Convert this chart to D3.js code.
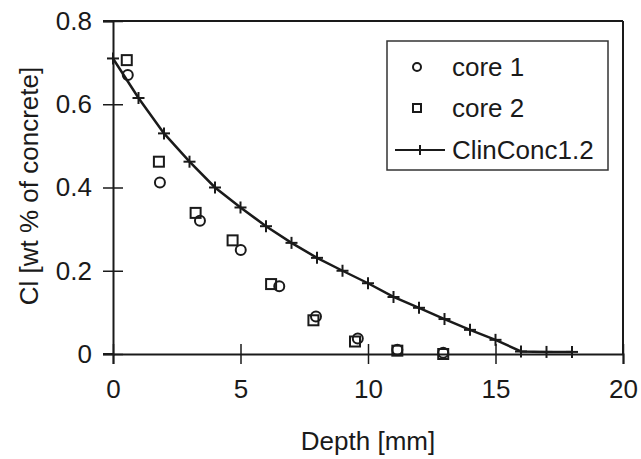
<!DOCTYPE html>
<html><head><meta charset="utf-8">
<script src="https://cdn.jsdelivr.net/npm/d3@7"></script>
<style>
html,body{margin:0;padding:0;background:#fff;}
svg{display:block;}
text{font-family:"Liberation Sans",Arial,Helvetica,sans-serif;fill:#1a1a1a;}
</style></head>
<body>
<script>
const xTicks = [0, 5, 10, 15, 20];
const yTicks = [0, 0.2, 0.4, 0.6, 0.8];
const yTickLabels = ["0", "0.2", "0.4", "0.6", "0.8"];

const core1Depth = [0.58, 1.84, 3.41, 5.01, 6.52, 7.96, 9.6, 11.15, 12.95];
const core1Cl    = [0.67, 0.412, 0.32, 0.25, 0.163, 0.09, 0.037, 0.01, 0.003];

const core2Depth = [0.54, 1.8, 3.24, 4.69, 6.2, 7.86, 9.49, 11.15, 12.95];
const core2Cl    = [0.706, 0.462, 0.339, 0.273, 0.168, 0.081, 0.03, 0.008, 0.0];

const modelDepth = [0, 1, 2, 3, 4, 5, 6, 7, 8, 9, 10, 11, 12, 13, 14, 15, 16, 17, 18];
const modelCl    = [0.71, 0.615, 0.53, 0.462, 0.40, 0.352, 0.307, 0.267, 0.231, 0.200, 0.170, 0.137, 0.111, 0.084, 0.058, 0.034, 0.006, 0.005, 0.005];

const seriesNames = ["core 1", "core 2", "ClinConc1.2"];

const W = 641, H = 459;
const ink = "#1a1a1a";
const svg = d3.select("body").append("svg").attr("width", W).attr("height", H);

const x = d3.scaleLinear().domain([0, 20]).range([113, 623]);
const y = d3.scaleLinear().domain([0, 0.8]).range([354, 21]);

// frame top & right
svg.append("line").attr("x1", x(0)).attr("x2", x(20)).attr("y1", y(0.8)).attr("y2", y(0.8))
  .attr("stroke", ink).attr("stroke-width", 2);
svg.append("line").attr("x1", x(20)).attr("x2", x(20)).attr("y1", y(0.8)).attr("y2", y(0))
  .attr("stroke", ink).attr("stroke-width", 2);

// y axis
const gy = svg.append("g").attr("transform", `translate(${x(0)},0)`)
  .call(d3.axisLeft(y).tickValues(yTicks).tickFormat((d, i) => yTickLabels[i]).tickSize(10).tickPadding(11));
gy.select(".domain").attr("stroke", ink).attr("stroke-width", 2);
gy.selectAll(".tick line").attr("x1", 10).attr("x2", -10).attr("stroke", ink).attr("stroke-width", 1.5);
gy.selectAll(".tick text").attr("font-size", 26).attr("font-family", "Liberation Sans, Arial, sans-serif").attr("fill", ink);

// x axis
const gx = svg.append("g").attr("transform", `translate(0,${y(0)})`)
  .call(d3.axisBottom(x).tickValues(xTicks).tickFormat(d3.format("d")).tickSize(10).tickPadding(16));
gx.select(".domain").attr("stroke", ink).attr("stroke-width", 2);
gx.selectAll(".tick line").attr("y1", -10).attr("y2", 10).attr("stroke", ink).attr("stroke-width", 1.5);
gx.selectAll(".tick text").attr("font-size", 26).attr("font-family", "Liberation Sans, Arial, sans-serif").attr("fill", ink);
// extend x axis line left
svg.append("line").attr("x1", x(0) - 10).attr("x2", x(0)).attr("y1", y(0)).attr("y2", y(0)).attr("stroke", ink).attr("stroke-width", 2);
svg.append("line").attr("x1", x(0) - 10).attr("x2", x(0)).attr("y1", y(0.8)).attr("y2", y(0.8)).attr("stroke", ink).attr("stroke-width", 2);

// axis titles
svg.append("text").attr("x", 368).attr("y", 450).attr("text-anchor", "middle").attr("font-size", 26).text("Depth [mm]");
svg.append("text").attr("transform", `translate(38,186) rotate(-90)`).attr("text-anchor", "middle").attr("font-size", 26).text("Cl [wt % of concrete]");

// model line
const model = modelDepth.map((d, i) => [d, modelCl[i]]);
svg.append("path").datum(model)
  .attr("d", d3.line().x(d => x(d[0])).y(d => y(d[1])))
  .attr("fill", "none").attr("stroke", ink).attr("stroke-width", 2.5);
const plus = (g, cx, cy, s) => {
  g.append("line").attr("x1", cx - s).attr("x2", cx + s).attr("y1", cy).attr("y2", cy).attr("stroke", ink).attr("stroke-width", 2);
  g.append("line").attr("x1", cx).attr("x2", cx).attr("y1", cy - s).attr("y2", cy + s).attr("stroke", ink).attr("stroke-width", 2);
};
const gm = svg.append("g");
model.forEach(d => plus(gm, x(d[0]), y(d[1]), 6));

// core 2 squares
const sq = 10;
svg.append("g").selectAll("rect").data(core2Depth.map((d, i) => [d, core2Cl[i]])).join("rect")
  .attr("x", d => x(d[0]) - sq / 2).attr("y", d => y(d[1]) - sq / 2)
  .attr("width", sq).attr("height", sq)
  .attr("fill", "none").attr("stroke", ink).attr("stroke-width", 2);

// core 1 circles
svg.append("g").selectAll("circle").data(core1Depth.map((d, i) => [d, core1Cl[i]])).join("circle")
  .attr("cx", d => x(d[0])).attr("cy", d => y(d[1])).attr("r", 5)
  .attr("fill", "none").attr("stroke", ink).attr("stroke-width", 2);

// legend
const lg = svg.append("g");
lg.append("rect").attr("x", 387).attr("y", 41).attr("width", 221).attr("height", 129)
  .attr("fill", "#fff").attr("stroke", "#333").attr("stroke-width", 1.5);
const rowsY = [67, 108, 150];
lg.append("circle").attr("cx", 417).attr("cy", rowsY[0]).attr("r", 4).attr("fill", "none").attr("stroke", ink).attr("stroke-width", 2);
lg.append("rect").attr("x", 413).attr("y", rowsY[1] - 4).attr("width", 8).attr("height", 8).attr("fill", "none").attr("stroke", ink).attr("stroke-width", 2);
lg.append("line").attr("x1", 395).attr("x2", 445).attr("y1", rowsY[2]).attr("y2", rowsY[2]).attr("stroke", ink).attr("stroke-width", 2);
plus(lg, 420, rowsY[2], 5);
seriesNames.forEach((n, i) => {
  lg.append("text").attr("x", 452).attr("y", rowsY[i]).attr("dy", "0.35em").attr("font-size", 26).text(n);
});
</script>
</body></html>
